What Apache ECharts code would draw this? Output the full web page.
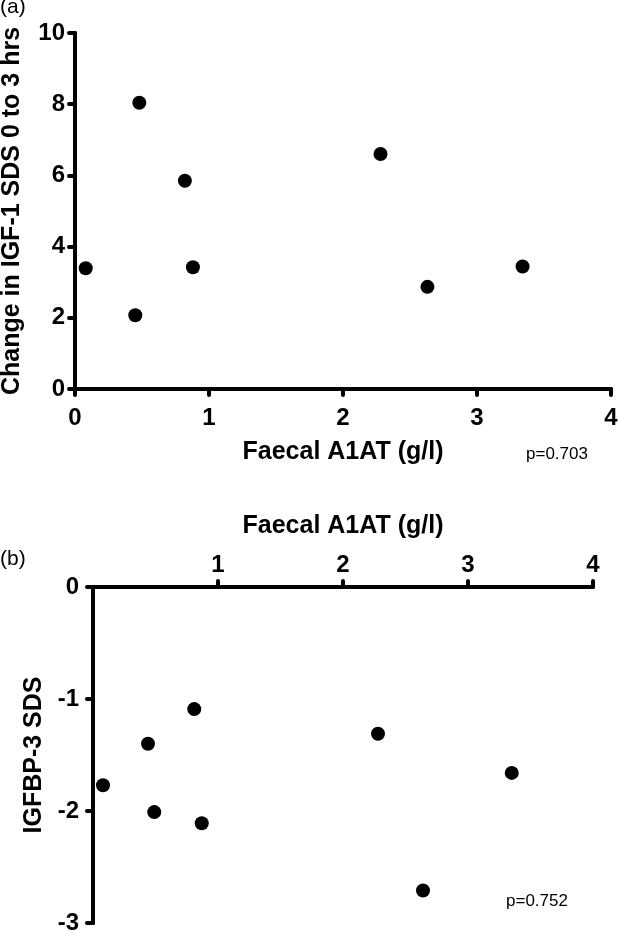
<!DOCTYPE html>
<html>
<head>
<meta charset="utf-8">
<script src="https://cdn.jsdelivr.net/npm/echarts@6/dist/echarts.min.js"></script>
<style>
html,body{margin:0;padding:0;background:#fff;}
#chart{width:618px;height:932px;}
</style>
</head>
<body>
<div id="chart"></div>
<script>
// Panel (a): Faecal A1AT vs change in IGF-1 SDS 0 to 3 hrs
var a1atA = [0.08, 0.45, 0.48, 0.82, 0.88, 2.28, 2.63, 3.34];
var igf1Change = [3.39, 2.07, 8.04, 5.85, 3.42, 6.60, 2.87, 3.44];
// Panel (b): Faecal A1AT vs IGFBP-3 SDS
var a1atB = [0.08, 0.44, 0.49, 0.81, 0.87, 2.28, 2.64, 3.35];
var igfbp3 = [-1.77, -1.40, -2.01, -1.09, -2.11, -1.31, -2.71, -1.66];

var xTitle = 'Faecal A1AT (g/l)';
var yTitleA = 'Change in IGF-1 SDS 0 to 3 hrs';
var yTitleB = 'IGFBP-3 SDS';
var pA = 'p=0.703';
var pB = 'p=0.752';

function pairs(xs, ys){ return xs.map(function(x,i){ return [x, ys[i]]; }); }

var FONT = '"Liberation Sans", Arial, sans-serif';
var axisLine = {show:true, onZero:false, lineStyle:{color:'#000', width:4, cap:'round'}};
var axisTick = {show:true, length:6, lineStyle:{color:'#000', width:4, cap:'round'}};
var tickLabel = {color:'#000', fontFamily:FONT, fontWeight:'bold', fontSize:24};
var nameStyle = {color:'#000', fontFamily:FONT, fontWeight:'bold', fontSize:25};

var chart = echarts.init(document.getElementById('chart'), null, {renderer:'canvas'});
chart.setOption({
  backgroundColor:'#fff',
  animation:false,
  grid:[
    {left:75, right:7, top:33, bottom:543, containLabel:false, outerBoundsMode:'none'},
    {left:93, right:25, top:587, bottom:9, containLabel:false, outerBoundsMode:'none'}
  ],
  xAxis:[
    {gridIndex:0, type:'value', min:0, max:4, interval:1, position:'bottom',
     name:xTitle, nameLocation:'middle', nameGap:51, nameTextStyle:nameStyle,
     axisLine:axisLine, axisTick:axisTick, splitLine:{show:false},
     axisLabel:Object.assign({margin:17}, tickLabel)},
    {gridIndex:1, type:'value', min:0, max:4, interval:1, position:'top',
     name:xTitle, nameLocation:'middle', nameGap:48, nameTextStyle:nameStyle,
     axisLine:axisLine, axisTick:axisTick, splitLine:{show:false},
     axisLabel:Object.assign({margin:10, showMinLabel:false}, tickLabel)}
  ],
  yAxis:[
    {gridIndex:0, type:'value', min:0, max:10, interval:2,
     name:yTitleA, nameLocation:'middle', nameGap:50, nameRotate:90, nameTextStyle:nameStyle,
     axisLine:axisLine, axisTick:axisTick, splitLine:{show:false},
     axisLabel:Object.assign({margin:10}, tickLabel)},
    {gridIndex:1, type:'value', min:-3, max:0, interval:1,
     name:yTitleB, nameLocation:'middle', nameGap:43, nameRotate:90, nameTextStyle:nameStyle,
     axisLine:axisLine, axisTick:axisTick, splitLine:{show:false},
     axisLabel:Object.assign({margin:14}, tickLabel)}
  ],
  series:[
    {type:'scatter', xAxisIndex:0, yAxisIndex:0, data:pairs(a1atA, igf1Change),
     symbol:'circle', symbolSize:14, itemStyle:{color:'#000', opacity:1}},
    {type:'scatter', xAxisIndex:1, yAxisIndex:1, data:pairs(a1atB, igfbp3),
     symbol:'circle', symbolSize:14, itemStyle:{color:'#000', opacity:1}}
  ],
  graphic:[
    {type:'text', left:0, top:-3, style:{text:'(a)', fill:'#000', font:'21px "Liberation Sans", Arial, sans-serif'}},
    {type:'text', left:0, top:549, style:{text:'(b)', fill:'#000', font:'21px "Liberation Sans", Arial, sans-serif'}},
    {type:'text', left:526, top:446, style:{text:pA, fill:'#000', font:'17px "Liberation Sans", Arial, sans-serif'}},
    {type:'text', left:506, top:893, style:{text:pB, fill:'#000', font:'17px "Liberation Sans", Arial, sans-serif'}}
  ]
});
</script>
</body>
</html>
